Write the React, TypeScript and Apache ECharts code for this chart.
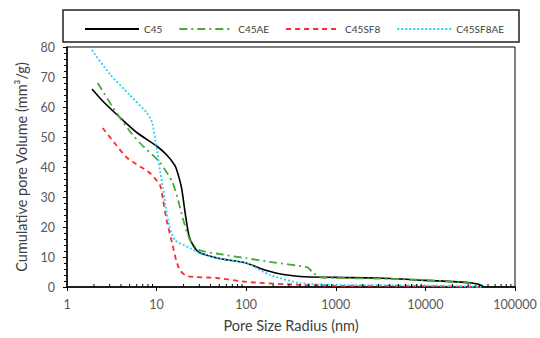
import React, { useEffect, useRef } from "react";
import * as echarts from "echarts";

const seriesNames = ["C45", "C45AE", "C45SF8", "C45SF8AE"];
const seriesColors = ["#000000", "#4aa83a", "#ff2a2a", "#2ad0ff"];

const c45: [number, number][] = [
  [1.9, 66], [2.5, 62], [3.9, 56.5], [6, 51.5], [10, 47], [13, 44], [16, 40.5], [17, 38.5],
  [19, 33], [21, 24], [23, 17], [26, 13.5], [30, 11.5], [50, 9.5], [100, 8], [150, 6],
  [220, 4.6], [400, 3.5], [1000, 3.2], [3000, 3], [10000, 2.2], [30000, 1.5], [40000, 0.8], [45000, 0],
];
const c45ae: [number, number][] = [
  [2.2, 68], [3.4, 59], [5, 52], [6.5, 48], [10.9, 41.5], [15, 35], [17, 30], [20, 22],
  [23.6, 15.6], [30, 12.3], [50, 11], [100, 9.6], [200, 8.2], [475, 6.6], [550, 5], [665, 3.2],
  [1000, 3], [3000, 2.8], [10000, 2.3], [30000, 1.3], [40000, 0],
];
const c45sf8: [number, number][] = [
  [2.5, 53], [3.5, 47.5], [4.7, 43], [8.4, 38], [10.9, 34], [11.8, 29], [13, 22], [14.9, 14.6],
  [16.5, 9], [18.2, 5.6], [21.8, 3.6], [47, 3], [100, 1.7], [400, 0.7], [1000, 0.4], [10000, 0.3], [45000, 0],
];
const c45sf8ae: [number, number][] = [
  [1.9, 79], [3, 71], [5, 64], [7.8, 58], [8.9, 55], [10, 46.5], [11, 38], [11.8, 33], [12.4, 28],
  [14, 20], [16, 15.6], [23.6, 13], [30, 11.3], [50, 9.5], [100, 8], [185, 4], [400, 1.3],
  [1000, 0.7], [10000, 0.5], [45000, 0],
];
const seriesData = [c45, c45ae, c45sf8, c45sf8ae];
const lineTypes: any[] = ["solid", [8, 4, 2, 4], [5, 4], [2, 2]];

const minorX: number[] = [];
[1, 10, 100, 1000, 10000].forEach((d) => {
  for (let k = 2; k <= 9; k++) minorX.push(k * d);
});

const FONT = "Lato";

export default function App() {
  const ref = useRef<HTMLDivElement>(null);
  useEffect(() => {
    const chart = echarts.init(ref.current!, null, { renderer: "svg" });
    const lineSeries = seriesNames.map((name, i) => ({
      name,
      type: "line",
      data: seriesData[i],
      showSymbol: false,
      symbol: "none",
      smooth: 0.2,
      lineStyle: { color: seriesColors[i], width: i === 0 ? 1.6 : 1.8, type: lineTypes[i] },
      itemStyle: { color: seriesColors[i] },
      z: 3,
    }));
    chart.setOption({
      animation: false,
      textStyle: { fontFamily: FONT },
      grid: { left: 67, right: 25, top: 47, bottom: 51, show: true, borderColor: "#000", borderWidth: 1 },
      graphic: [
        {
          type: "rect",
          shape: { x: 63, y: 10, width: 456, height: 32 },
          style: { fill: "none", stroke: "#222", lineWidth: 1.5 },
        },
      ],
      legend: {
        data: seriesNames,
        left: 79,
        top: 19,
        itemWidth: 54,
        itemHeight: 10,
        itemGap: 16,
        itemStyle: { opacity: 0 },
        textStyle: { fontFamily: FONT, fontSize: 10, color: "#404040" },
      },
      xAxis: {
        type: "log",
        logBase: 10,
        min: 1,
        max: 100000,
        name: "Pore Size Radius (nm)",
        nameLocation: "middle",
        nameGap: 31,
        nameTextStyle: { fontFamily: FONT, fontSize: 14.5, color: "#404040" },
        axisLine: { show: true, lineStyle: { color: "#000", width: 1.5 } },
        axisTick: { show: true, length: 4, lineStyle: { color: "#000" } },
        axisLabel: {
          fontFamily: FONT,
          fontSize: 12.5,
          color: "#595959",
          margin: 11,
          formatter: (v: number) => String(Math.round(v)),
        },
        splitLine: { show: false },
      },
      yAxis: {
        type: "value",
        min: 0,
        max: 80,
        interval: 10,
        name: "Cumulative pore Volume (mm³/g)",
        nameLocation: "middle",
        nameGap: 38,
        nameTextStyle: { fontFamily: FONT, fontSize: 14.5, color: "#404040" },
        axisLine: { show: true, lineStyle: { color: "#000", width: 1.5 } },
        axisTick: { show: true, length: 4, lineStyle: { color: "#000" } },
        minorTick: { show: true, splitNumber: 5, length: 3, lineStyle: { color: "#000" } },
        axisLabel: { fontFamily: FONT, fontSize: 12.5, color: "#595959", margin: 12 },
        splitLine: { show: false },
      },
      series: [
        ...lineSeries,
        {
          name: "minorTicks",
          type: "custom",
          data: minorX.map((v) => [v, 0]),
          silent: true,
          clip: false,
          renderItem: (params: any, api: any) => {
            const p = api.coord([api.value(0), 0]);
            return {
              type: "line",
              shape: { x1: p[0], y1: p[1], x2: p[0], y2: p[1] - 3 },
              style: { stroke: "#000", lineWidth: 1 },
            };
          },
          z: 4,
        },
      ],
    });
    return () => chart.dispose();
  }, []);
  return (
    <div
      ref={ref}
      style={{ position: "fixed", left: 0, top: 0, width: 540, height: 338, background: "#fff" }}
    />
  );
}
